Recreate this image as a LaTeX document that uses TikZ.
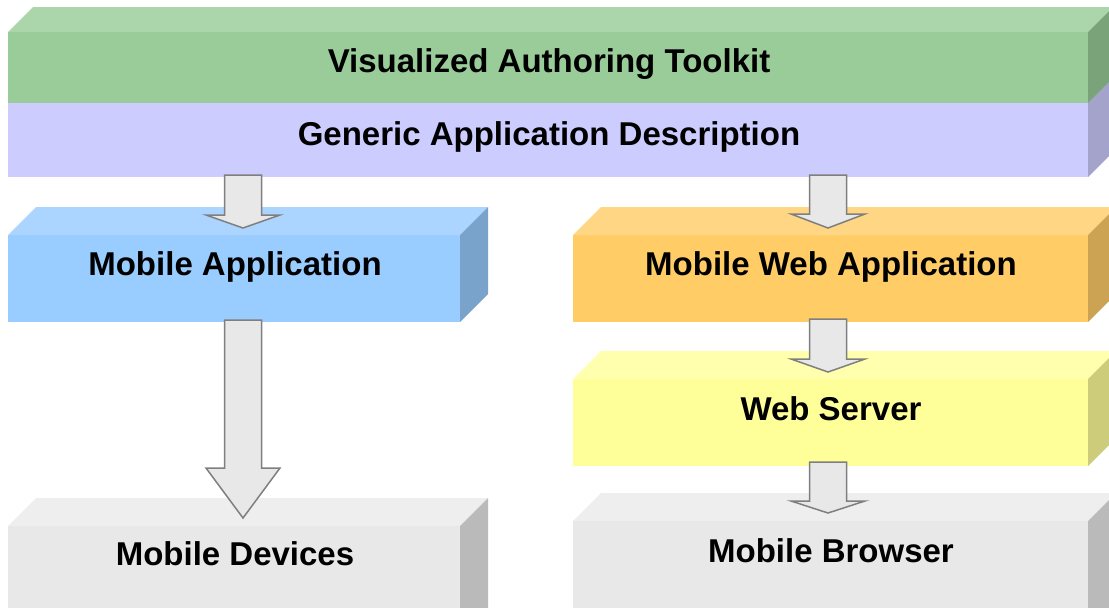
\documentclass[tikz,border=0pt]{standalone}
\usepackage{fontspec}
\setmainfont{Liberation Sans}
\usetikzlibrary{calc}

% face colours: top / front / side of each slab
\definecolor{greenTop}{HTML}{ABD5AB}
\definecolor{greenFront}{HTML}{99CC99}
\definecolor{greenSide}{HTML}{7AA37A}
\definecolor{purpleTop}{HTML}{D6D6FF}
\definecolor{purpleFront}{HTML}{CCCCFF}
\definecolor{purpleSide}{HTML}{A3A3CC}
\definecolor{blueTop}{HTML}{ABD5FF}
\definecolor{blueFront}{HTML}{99CCFF}
\definecolor{blueSide}{HTML}{7AA3CC}
\definecolor{orangeTop}{HTML}{FFD784}
\definecolor{orangeFront}{HTML}{FFCC66}
\definecolor{orangeSide}{HTML}{CCA352}
\definecolor{yellowTop}{HTML}{FFFFAD}
\definecolor{yellowFront}{HTML}{FFFF99}
\definecolor{yellowSide}{HTML}{CCCC7A}
\definecolor{greyTop}{HTML}{EEEEEE}
\definecolor{greyFront}{HTML}{E8E8E8}
\definecolor{greySide}{HTML}{BABABA}
\definecolor{arrowFill}{HTML}{E8E8E8}
\definecolor{arrowLine}{HTML}{7F7F7F}

\tikzset{
  face/.style={draw=none, inner sep=0pt, outer sep=0pt, rectangle},
  lbl/.style={inner sep=0pt, anchor=base, font=\bfseries\fontsize{33}{40}\selectfont},
  blockarrow/.style={fill=arrowFill, draw=arrowLine, line width=1.5pt, line join=miter},
}

% \slab{name}{west}{top}{east}{bottom}{depth}{colour prefix}
\newcommand\slab[7]{%
  \node[face, fill=#7Front, minimum width={(#4-#2)*1pt}, minimum height={(#5-#3)*1pt}]
    (#1) at ({(#2+#4)/2},{(#3+#5)/2}) {};
  \fill[#7Top] (#1.north west) -- ++(#6,-#6) -- ++({#4-#2},0) -- (#1.north east) -- cycle;
  \fill[#7Side] (#1.north east) -- ++(#6,-#6) -- ++(0,{#5-#3}) -- (#1.south east) -- cycle;
}

% \barrow{start}{tip}{head length}: hollow block arrow pointing down
\newcommand\barrow[3]{%
  \draw[blockarrow] let \p1=(#1), \p2=(#2) in
    (\x1-18.5pt,\y1) -- (\x1+18.5pt,\y1) -- (\x1+18.5pt,\y2+#3pt) -- (\x1+37pt,\y2+#3pt)
    -- (\x2,\y2) -- (\x1-37pt,\y2+#3pt) -- (\x1-18.5pt,\y2+#3pt) -- cycle;
}

\begin{document}
\begin{tikzpicture}[x=1pt, y=-1pt]
  \clip (0,0) rectangle (1109,608);
  \fill[white] (0,0) rectangle (1109,608);

  % stacked description layers
  \slab{gad}{8}{103}{1088}{177}{25}{purple}
  \slab{vat}{8}{32}{1088}{103}{25}{green}
  \node[lbl] (vatT) at (549,72) {Visualized Authoring Toolkit};
  \node[lbl] (gadT) at (549,145) {Generic Application Description};

  % left column
  \slab{ma}{8}{235}{460}{322}{28}{blue}
  \node[lbl] (maT) at (235,275) {Mobile Application};
  \slab{md}{8}{526}{460}{660}{28}{grey}
  \node[lbl] (mdT) at (235,565) {Mobile Devices};

  % right column
  \slab{mwa}{573}{235}{1088}{322}{28}{orange}
  \node[lbl] (mwaT) at (831,275) {Mobile Web Application};
  \slab{ws}{573}{379}{1088}{466}{28}{yellow}
  \node[lbl] (wsT) at (831,420) {Web Server};
  \slab{mb}{573}{521}{1088}{660}{28}{grey}
  \node[lbl] (mbT) at (831,562) {Mobile Browser};

  % arrow ends
  \coordinate (a1s) at (243,175); \coordinate (a1e) at (243,228);
  \coordinate (a2s) at (243,320); \coordinate (a2e) at (243,518);
  \coordinate (a3s) at (828,175); \coordinate (a3e) at (828,228);
  \coordinate (a4s) at (828,319); \coordinate (a4e) at (828,372);
  \coordinate (a5s) at (828,462); \coordinate (a5e) at (828,513);

  \barrow{a1s}{a1e}{13}
  \barrow{a2s}{a2e}{50}
  \barrow{a3s}{a3e}{14}
  \barrow{a4s}{a4e}{13}
  \barrow{a5s}{a5e}{12}
\end{tikzpicture}
\end{document}
